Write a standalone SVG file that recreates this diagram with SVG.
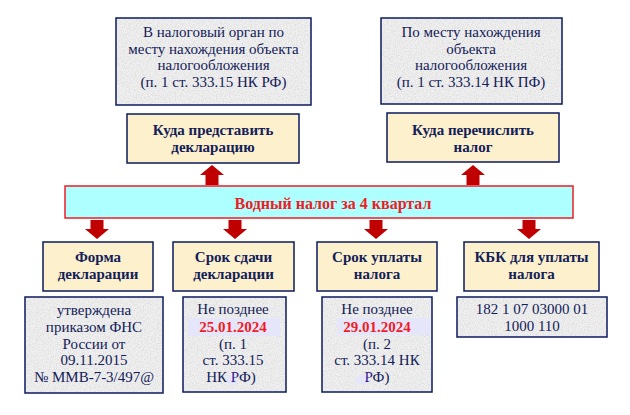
<svg xmlns="http://www.w3.org/2000/svg" width="630" height="415" viewBox="0 0 630 415">
<defs>
<filter id="tex" x="0" y="0" width="100%" height="100%">
<feTurbulence type="fractalNoise" baseFrequency="0.85" numOctaves="3" seed="3" result="n"/>
<feColorMatrix in="n" type="matrix" values="0 0 0 0 0.6  0 0 0 0 0.6  0 0 0 0 0.6  1.3 0 0 0 -0.5" result="s"/>
<feFlood flood-color="#f0f0f0" result="bg"/>
<feComposite in="s" in2="bg" operator="over" result="c"/>
<feComposite in="c" in2="SourceGraphic" operator="in"/>
</filter>
</defs>
<style>
.tx{fill:#eeeeee;filter:url(#tex)}
.bd{fill:none;stroke:#0b1a5e;stroke-width:1.5}
.lb{fill:#fdf0cc;stroke:#0b1a5e;stroke-width:1.5}
text{font-family:'Liberation Serif','Times New Roman',Times,serif}
.t{font-size:15px;fill:#122058;text-anchor:middle}
.b{font-weight:bold}
.red{fill:#ee1c25;font-weight:bold}
.arr{fill:#c00000}
.hl{fill:#e6e6fa}
</style>
<rect width="630" height="415" fill="#ffffff"/>

<g id="where-submit-info">
<rect class="tx" x="116" y="18" width="195" height="87"/>
<rect class="bd" x="116" y="18" width="195" height="87"/>
<text class="t" x="213.5" y="37">В налоговый орган по</text>
<text class="t" x="213.5" y="53.5">месту нахождения объекта</text>
<text class="t" x="213.5" y="70">налогообложения</text>
<text class="t" x="213.5" y="86.5">(п. 1 ст. 333.15 НК РФ)</text>
</g>

<g id="where-pay-info">
<rect class="tx" x="381" y="18" width="181" height="86"/>
<rect class="bd" x="381" y="18" width="181" height="86"/>
<text class="t" x="471" y="37">По месту нахождения</text>
<text class="t" x="471" y="53.5">объекта</text>
<text class="t" x="471" y="70">налогообложения</text>
<text class="t" x="471" y="86.5">(п. 1 ст. 333.14 НК ПФ)</text>
</g>

<g id="where-submit">
<rect class="lb" x="127" y="114" width="172" height="49"/>
<text class="t b" x="213" y="135">Куда представить</text>
<text class="t b" x="213" y="152">декларацию</text>
</g>

<g id="where-pay">
<rect class="lb" x="387" y="113" width="172" height="49"/>
<text class="t b" x="473" y="135">Куда перечислить</text>
<text class="t b" x="473" y="152">налог</text>
</g>

<g id="main">
<rect x="65" y="186" width="508" height="32" fill="#aeffff" stroke="#ee1c25" stroke-width="1.5"/>
<text class="t red" x="333" y="209" style="font-size:16px">Водный налог за 4 квартал</text>
</g>

<g id="form">
<rect class="lb" x="43" y="242" width="110" height="49"/>
<text class="t b" x="98" y="262">Форма</text>
<text class="t b" x="98" y="279">декларации</text>
</g>

<g id="submit-term">
<rect class="lb" x="173" y="242" width="121" height="49"/>
<text class="t b" x="233.5" y="262">Срок сдачи</text>
<text class="t b" x="233.5" y="279">декларации</text>
</g>

<g id="pay-term">
<rect class="lb" x="317" y="242" width="120" height="49"/>
<text class="t b" x="377" y="262">Срок уплаты</text>
<text class="t b" x="377" y="279">налога</text>
</g>

<g id="kbk">
<rect class="lb" x="464" y="242" width="135" height="49"/>
<text class="t b" x="531.5" y="262">КБК для уплаты</text>
<text class="t b" x="531.5" y="279">налога</text>
</g>

<g id="form-info">
<rect class="tx" x="25" y="297" width="138" height="96"/>
<rect class="bd" x="25" y="297" width="138" height="96"/>
<text class="t" x="94" y="315">утверждена</text>
<text class="t" x="94" y="332">приказом ФНС</text>
<text class="t" x="94" y="348.5">России от</text>
<text class="t" x="94" y="365">09.11.2015</text>
<text class="t" x="94" y="382">№ ММВ-7-3/497@</text>
</g>

<g id="submit-term-info">
<rect class="tx" x="183" y="297" width="103" height="95"/>
<rect class="hl" x="188" y="318" width="92" height="18"/>
<ellipse class="hl" cx="232" cy="380" rx="6" ry="5"/>
<rect class="bd" x="183" y="297" width="103" height="95"/>
<text class="t" x="233" y="314">Не позднее</text>
<text class="t red" x="233" y="332">25.01.2024</text>
<text class="t" x="233" y="348.5">(п. 1</text>
<text class="t" x="233" y="365">ст. 333.15</text>
<text class="t" x="231" y="382">НК <tspan fill="#3a1a8c">Р</tspan>Ф)</text>
</g>

<g id="pay-term-info">
<rect class="tx" x="322" y="297" width="110" height="95"/>
<rect class="hl" x="337" y="318" width="93" height="17"/>
<ellipse class="hl" cx="362" cy="380" rx="7" ry="5"/>
<rect class="bd" x="322" y="297" width="110" height="95"/>
<text class="t" x="377" y="314">Не позднее</text>
<text class="t red" x="377" y="332">29.01.2024</text>
<text class="t" x="377" y="348.5">(п. 2</text>
<text class="t" x="377" y="365">ст. 333.14 НК</text>
<text class="t" x="377" y="382"><tspan fill="#3a1a8c">Р</tspan>Ф)</text>
</g>

<g id="kbk-info">
<rect class="tx" x="457" y="297" width="150" height="40"/>
<rect class="bd" x="457" y="297" width="150" height="40"/>
<text class="t" x="532" y="314">182 1 07 03000 01</text>
<text class="t" x="532" y="331">1000 110</text>
</g>

<g id="connectors">
<polygon class="arr" points="212,165 224,175 218.5,175 218.5,185 205.5,185 205.5,175 200,175"/>
<polygon class="arr" points="473,165 485,175 479.5,175 479.5,185 466.5,185 466.5,175 461,175"/>
<polygon class="arr" points="90.5,220 103.5,220 103.5,229 109,229 97,239 85,229 90.5,229"/>
<polygon class="arr" points="228.5,220 241.5,220 241.5,229 247,229 235,239 223,229 228.5,229"/>
<polygon class="arr" points="369.5,220 382.5,220 382.5,229 388,229 376,239 364,229 369.5,229"/>
<polygon class="arr" points="522.5,220 535.5,220 535.5,229 541,229 529,239 517,229 522.5,229"/>
</g>
</svg>
